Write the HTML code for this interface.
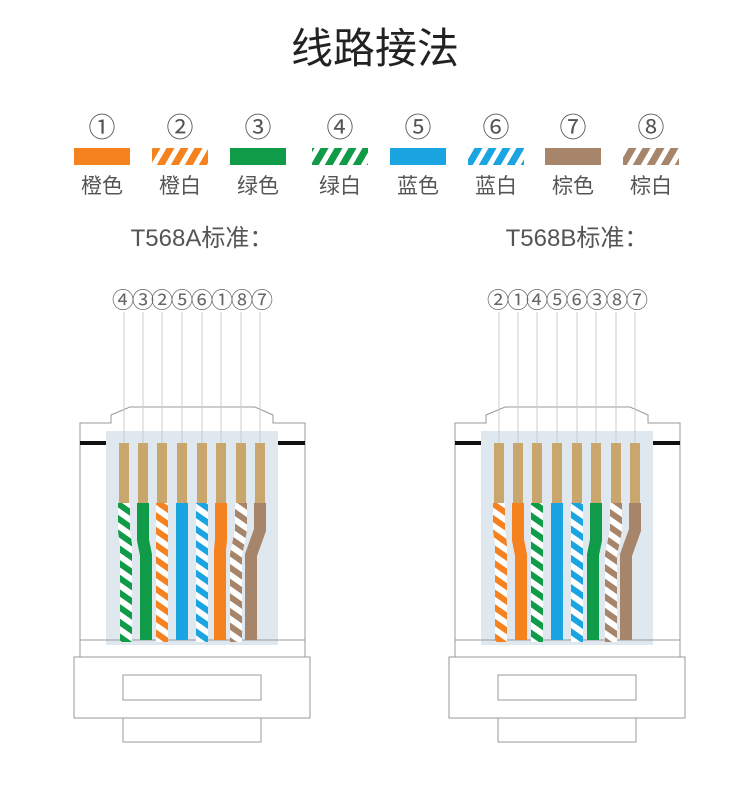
<!DOCTYPE html>
<html><head><meta charset="utf-8"><style>
html,body{margin:0;padding:0;background:#fff;}
svg{display:block;}
text{font-family:"Liberation Sans","Noto Sans CJK SC",sans-serif;}
</style></head><body>
<svg width="750" height="797" viewBox="0 0 750 797" xmlns="http://www.w3.org/2000/svg">
<defs>
<pattern id="pO" patternUnits="userSpaceOnUse" width="12" height="12" patternTransform="rotate(-55)"><rect width="12" height="12" fill="#fff"/><rect width="6" height="12" fill="#f5821f"/></pattern>
<pattern id="pG" patternUnits="userSpaceOnUse" width="12" height="12" patternTransform="rotate(-55)"><rect width="12" height="12" fill="#fff"/><rect width="6" height="12" fill="#0f9b48"/></pattern>
<pattern id="pB" patternUnits="userSpaceOnUse" width="12" height="12" patternTransform="rotate(-55)"><rect width="12" height="12" fill="#fff"/><rect width="6" height="12" fill="#1ba4e2"/></pattern>
<pattern id="pN" patternUnits="userSpaceOnUse" width="12" height="12" patternTransform="rotate(-55)"><rect width="12" height="12" fill="#fff"/><rect width="6" height="12" fill="#a7856a"/></pattern>
<pattern id="lO" patternUnits="userSpaceOnUse" width="14" height="17" patternTransform="skewX(-30)"><rect width="14" height="17" fill="#fff"/><rect width="8" height="17" fill="#f5821f"/></pattern>
<pattern id="lG" patternUnits="userSpaceOnUse" width="14" height="17" patternTransform="skewX(-30)"><rect width="14" height="17" fill="#fff"/><rect width="8" height="17" fill="#0f9b48"/></pattern>
<pattern id="lB" patternUnits="userSpaceOnUse" width="14" height="17" patternTransform="skewX(-30)"><rect width="14" height="17" fill="#fff"/><rect width="8" height="17" fill="#1ba4e2"/></pattern>
<pattern id="lN" patternUnits="userSpaceOnUse" width="14" height="17" patternTransform="skewX(-30)"><rect width="14" height="17" fill="#fff"/><rect width="8" height="17" fill="#a7856a"/></pattern>

<g id="conn">
  <path d="M80,423 H111 V415 L130,407 H255 L273,415 V423 H305 V657 H80 Z" fill="#fff" stroke="#999" stroke-width="1"/>
  <rect x="106" y="431" width="172" height="214" fill="#dfe7ef"/>
  <rect x="80" y="441" width="26" height="4" fill="#111"/>
  <rect x="278" y="441" width="27" height="4" fill="#111"/>
  <line x1="80" y1="640" x2="305" y2="640" stroke="#999"/>
  <rect x="74" y="657" width="236" height="61" fill="#fff" stroke="#999"/>
  <rect x="123" y="675" width="138" height="25" fill="#fff" stroke="#999"/>
  <rect x="123" y="718" width="138" height="24" fill="#fff" stroke="#999"/>
  <g stroke="#ccc" stroke-width="1">
    <line x1="124" y1="312" x2="124" y2="445"/><line x1="143" y1="312" x2="143" y2="445"/>
    <line x1="162" y1="312" x2="162" y2="445"/><line x1="182" y1="312" x2="182" y2="445"/>
    <line x1="202" y1="312" x2="202" y2="445"/><line x1="221" y1="312" x2="221" y2="445"/>
    <line x1="241" y1="312" x2="241" y2="445"/><line x1="260" y1="312" x2="260" y2="445"/>
  </g>
  <g fill="#c9a66b">
    <rect x="119" y="443" width="10" height="62"/><rect x="138" y="443" width="10" height="62"/>
    <rect x="157" y="443" width="10" height="62"/><rect x="177" y="443" width="10" height="62"/>
    <rect x="197" y="443" width="10" height="62"/><rect x="216" y="443" width="10" height="62"/>
    <rect x="236" y="443" width="10" height="62"/><rect x="255" y="443" width="10" height="62"/>
  </g>
</g>
</defs>

<text x="375" y="63" font-size="42" text-anchor="middle" fill="#222">线路接法</text>

<g font-size="27" text-anchor="middle" fill="#555">
<text x="102" y="137">①</text><text x="180" y="137">②</text><text x="258" y="137">③</text><text x="340" y="137">④</text>
<text x="418" y="137">⑤</text><text x="496" y="137">⑥</text><text x="573" y="137">⑦</text><text x="651" y="137">⑧</text>
</g>
<rect x="74" y="148" width="56" height="17" fill="#f5821f"/>
<rect x="152" y="148" width="56" height="17" fill="url(#lO)"/>
<rect x="230" y="148" width="56" height="17" fill="#0f9b48"/>
<rect x="312" y="148" width="56" height="17" fill="url(#lG)"/>
<rect x="390" y="148" width="56" height="17" fill="#1ba4e2"/>
<rect x="468" y="148" width="56" height="17" fill="url(#lB)"/>
<rect x="545" y="148" width="56" height="17" fill="#a7856a"/>
<rect x="623" y="148" width="56" height="17" fill="url(#lN)"/>
<g font-size="21" text-anchor="middle" fill="#555">
<text x="102" y="193">橙色</text><text x="180" y="193">橙白</text><text x="258" y="193">绿色</text><text x="340" y="193">绿白</text>
<text x="418" y="193">蓝色</text><text x="496" y="193">蓝白</text><text x="573" y="193">棕色</text><text x="651" y="193">棕白</text>
</g>
<text x="202" y="246" font-size="24" text-anchor="middle" fill="#555">T568A标准：</text>
<text x="577" y="246" font-size="24" text-anchor="middle" fill="#555">T568B标准：</text>

<!-- A -->
<use href="#conn"/>
<g font-size="22" text-anchor="middle" fill="#666">
<text x="123" y="308">④</text><text x="143" y="308">③</text><text x="162" y="308">②</text><text x="182" y="308">⑤</text>
<text x="202" y="308">⑥</text><text x="222" y="308">①</text><text x="242" y="308">⑧</text><text x="262" y="308">⑦</text>
</g>
<g fill="none" stroke-width="12">
<path d="M124,503 V530 L126,545 V642" stroke="url(#pG)"/>
<path d="M143,503 V540 L146,555 V640" stroke="#0f9b48"/>
<path d="M162,503 V642" stroke="url(#pO)"/>
<path d="M182,503 V640" stroke="#1ba4e2"/>
<path d="M202,503 V642" stroke="url(#pB)"/>
<path d="M221,503 V540 L220,550 V640" stroke="#f5821f"/>
<path d="M241,503 V530 L236,555 V642" stroke="url(#pN)"/>
<path d="M260,503 V530 L251,555 V640" stroke="#a7856a"/>
</g>

<!-- B -->
<g transform="translate(375,0)">
<use href="#conn"/>
<g font-size="22" text-anchor="middle" fill="#666">
<text x="123" y="308">②</text><text x="143" y="308">①</text><text x="162" y="308">④</text><text x="182" y="308">⑤</text>
<text x="202" y="308">⑥</text><text x="222" y="308">③</text><text x="242" y="308">⑧</text><text x="262" y="308">⑦</text>
</g>
<g fill="none" stroke-width="12">
<path d="M124,503 V530 L126,545 V642" stroke="url(#pO)"/>
<path d="M143,503 V540 L146,555 V640" stroke="#f5821f"/>
<path d="M162,503 V642" stroke="url(#pG)"/>
<path d="M182,503 V640" stroke="#1ba4e2"/>
<path d="M202,503 V642" stroke="url(#pB)"/>
<path d="M221,503 V540 L218,555 V640" stroke="#0f9b48"/>
<path d="M241,503 V530 L236,555 V642" stroke="url(#pN)"/>
<path d="M260,503 V530 L251,555 V640" stroke="#a7856a"/>
</g>
</g>
</svg>
</body></html>
